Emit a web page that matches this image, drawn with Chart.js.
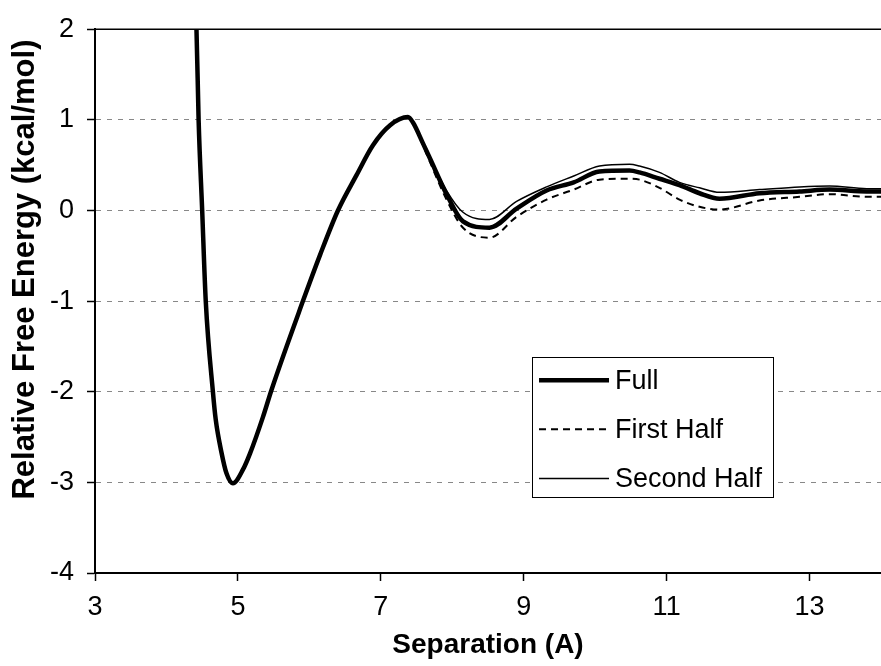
<!DOCTYPE html>
<html>
<head>
<meta charset="utf-8">
<script src="https://cdn.jsdelivr.net/npm/chart.js@4.4.1/dist/chart.umd.min.js"></script>
<style>
  html, body { margin: 0; padding: 0; background: #fff; }
  #wrap { width: 881px; height: 666px; position: relative; }
</style>
</head>
<body>
<div id="wrap"><canvas id="chart"></canvas></div>
<script>
// values
const separation = [4.39, 4.42, 4.45, 4.50, 4.55, 4.65, 4.69, 4.77, 4.84, 4.93, 5.07, 5.17, 5.35, 5.47, 5.91,
  6.15, 6.40, 6.66, 6.89, 7.13, 7.38, 7.45, 7.59, 7.69, 7.92, 8.15, 8.52, 8.90, 9.32, 9.70,
  10.06, 10.48, 10.62, 10.90, 11.18, 11.46, 11.74, 12.30, 12.86, 13.28, 13.80, 14.00];
const fullRun = [2.3, 2.0, 1.0, 0.0, -1.0, -2.0, -2.31, -2.67, -2.90, -3.01, -2.86, -2.68, -2.28, -1.98, -1.00,
  -0.49, 0.00, 0.39, 0.72, 0.94, 1.03, 0.97, 0.74, 0.57, 0.18, -0.12, -0.19, 0.02, 0.22, 0.31,
  0.43, 0.44, 0.42, 0.35, 0.28, 0.19, 0.13, 0.19, 0.21, 0.23, 0.21, 0.21];
const firstHalf = [2.3, 2.0, 1.0, 0.0, -1.0, -2.0, -2.31, -2.67, -2.90, -3.01, -2.86, -2.68, -2.28, -1.98, -1.00,
  -0.49, 0.00, 0.39, 0.72, 0.94, 1.03, 0.97, 0.72, 0.53, 0.12, -0.19, -0.30, -0.07, 0.12, 0.23,
  0.34, 0.35, 0.34, 0.25, 0.12, 0.04, 0.01, 0.11, 0.15, 0.18, 0.15, 0.15];
const secondHalf = [2.3, 2.0, 1.0, 0.0, -1.0, -2.0, -2.31, -2.67, -2.90, -3.01, -2.86, -2.68, -2.28, -1.98, -1.00,
  -0.49, 0.00, 0.39, 0.72, 0.94, 1.03, 0.97, 0.75, 0.58, 0.22, -0.02, -0.10, 0.10, 0.26, 0.38,
  0.49, 0.51, 0.49, 0.42, 0.31, 0.25, 0.20, 0.23, 0.26, 0.27, 0.24, 0.24];

const seriesNames = ["Full", "First Half", "Second Half"];
const xTicks = [3, 5, 7, 9, 11, 13];
const xTitle = "Separation (A)";
const yTitle = "Relative Free Energy (kcal/mol)";

const FONT = '"Liberation Sans", Arial, Helvetica, sans-serif';
Chart.defaults.font.family = FONT;
Chart.defaults.color = "#000";

const toPoints = (ys) => separation.map((x, i) => ({ x, y: ys[i] }));

// top frame line, rotated y title and the boxed legend
const overlayPlugin = {
  id: "overlay",
  afterDraw(chart) {
    const { ctx, chartArea: a } = chart;
    ctx.save();
    ctx.strokeStyle = "#000";
    ctx.lineWidth = 1.5;
    ctx.beginPath();
    ctx.moveTo(a.left, a.top);
    ctx.lineTo(a.right, a.top);
    ctx.stroke();

    ctx.save();
    ctx.translate(25, a.top + a.height * 0.442);
    ctx.rotate(-Math.PI / 2);
    ctx.font = "bold 31px " + FONT;
    ctx.textAlign = "center";
    ctx.textBaseline = "middle";
    ctx.fillStyle = "#000";
    ctx.fillText(yTitle, 0, 0);
    ctx.restore();

    const bx = a.left + a.width * 0.556;
    const by = a.top + a.height * 0.603;
    const bw = a.width * 0.307;
    const bh = a.height * 0.258;
    ctx.fillStyle = "#fff";
    ctx.fillRect(bx, by, bw, bh);
    ctx.strokeStyle = "#000";
    ctx.lineWidth = 1;
    ctx.strokeRect(Math.round(bx) + 0.5, Math.round(by) + 0.5, Math.round(bw), Math.round(bh));

    ctx.font = "27px " + FONT;
    ctx.textAlign = "left";
    ctx.textBaseline = "middle";
    chart.data.datasets.forEach((ds, i) => {
      const ry = by + bh * (0.165 + i * 0.35);
      ctx.strokeStyle = ds.borderColor;
      ctx.lineWidth = ds.borderWidth;
      ctx.setLineDash(ds.borderDash || []);
      ctx.beginPath();
      ctx.moveTo(bx + 7, ry);
      ctx.lineTo(bx + 77, ry);
      ctx.stroke();
      ctx.setLineDash([]);
      ctx.fillStyle = "#000";
      ctx.fillText(ds.label, bx + 83, ry + 1);
    });
    ctx.restore();
  }
};

new Chart(document.getElementById("chart"), {
  type: "line",
  data: {
    datasets: [
      {
        label: seriesNames[0],
        data: toPoints(fullRun),
        borderColor: "#000",
        borderWidth: 4.5,
      },
      {
        label: seriesNames[1],
        data: toPoints(firstHalf),
        borderColor: "#000",
        borderWidth: 2,
        borderDash: [7, 5],
      },
      {
        label: seriesNames[2],
        data: toPoints(secondHalf),
        borderColor: "#000",
        borderWidth: 1.5,
      },
    ],
  },
  options: {
    responsive: true,
    maintainAspectRatio: false,
    animation: false,
    layout: { padding: { top: 26, right: 0, left: 0, bottom: 0 } },
    elements: {
      point: { radius: 0 },
      line: { cubicInterpolationMode: "monotone", borderJoinStyle: "round", fill: false },
    },
    datasets: { line: { clip: 0 } },
    plugins: {
      legend: { display: false },
      tooltip: { enabled: false },
    },
    scales: {
      x: {
        type: "linear",
        min: 3,
        max: 14,
        afterBuildTicks: (scale) => {
          scale.ticks = xTicks.map((v) => ({ value: v }));
        },
        afterFit: (scale) => { scale.height = 93; },
        grid: { drawOnChartArea: false, tickLength: 8, tickColor: "#000", tickWidth: 1.5 },
        border: { display: true, color: "#000", width: 2 },
        ticks: { font: { size: 27 }, padding: 10, maxRotation: 0, autoSkip: false },
        title: {
          display: true,
          text: xTitle,
          font: { size: 28, weight: "bold" },
          padding: { top: 0, bottom: 4 },
        },
      },
      y: {
        min: -4,
        max: 2,
        afterFit: (scale) => { scale.width = 95; },
        grid: {
          color: (c) => (c.tick && (c.tick.value === 2 || c.tick.value === -4) ? "rgba(0,0,0,0)" : "#888"),
          lineWidth: 1,
          tickLength: 8,
          tickColor: "#000",
          tickWidth: 1.5,
        },
        border: { display: true, color: "#000", width: 2, dash: [5, 6] },
        ticks: { stepSize: 1, font: { size: 27 }, padding: 13 },
        title: { display: false },
      },
    },
  },
  plugins: [overlayPlugin],
});
</script>
</body>
</html>
